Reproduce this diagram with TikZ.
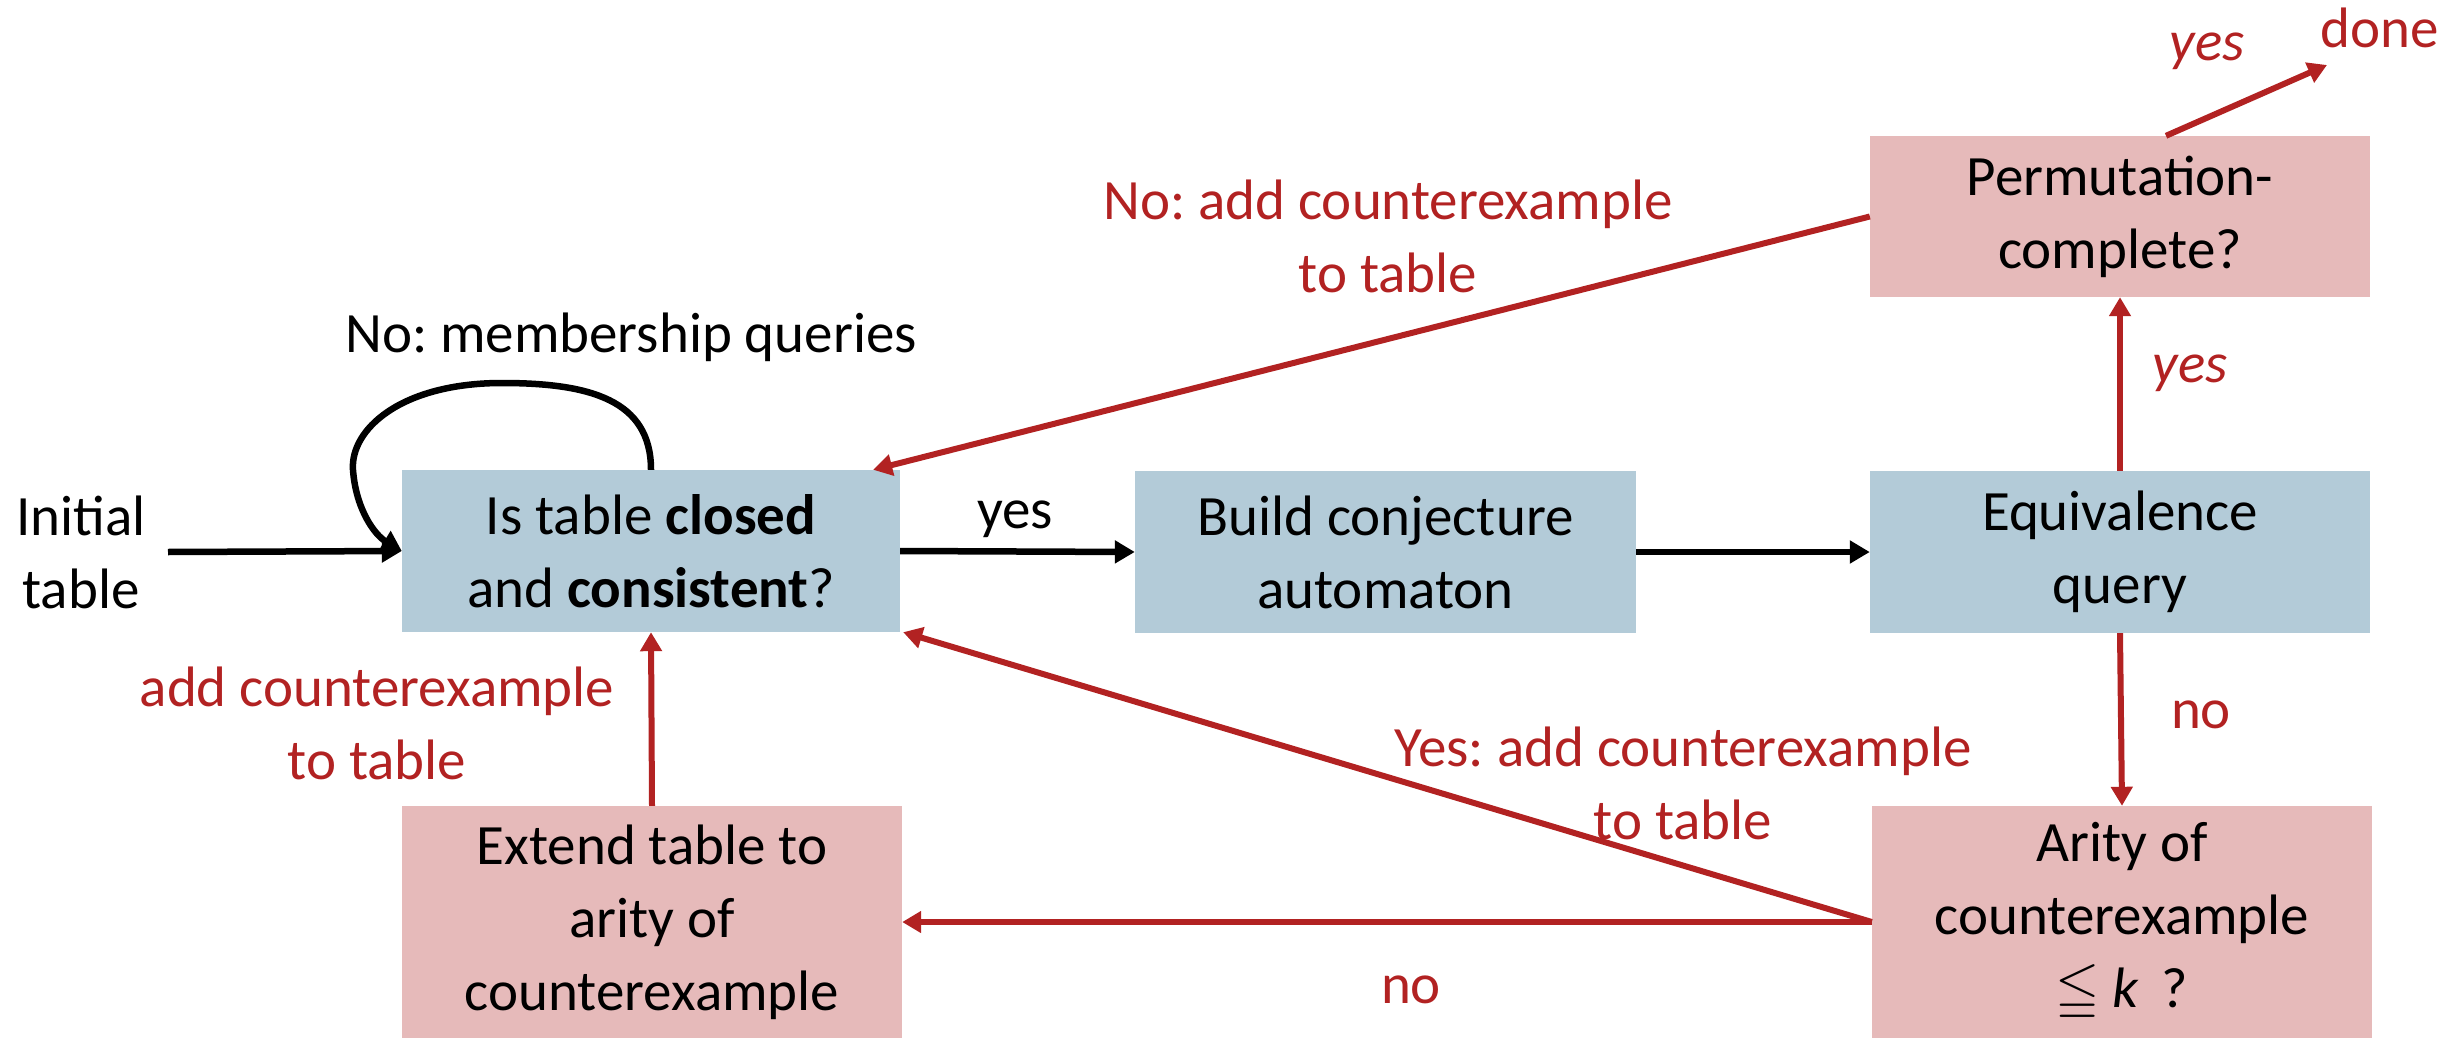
\documentclass[tikz,border=0pt]{standalone}
\usepackage{fontspec}
\usepackage{amssymb}
\setmainfont{Carlito}
\usetikzlibrary{arrows.meta,calc}
\definecolor{boxblue}{RGB}{179,203,216}
\definecolor{boxpink}{RGB}{230,186,186}
\definecolor{darkred}{RGB}{178,34,34}
\frenchspacing
\begin{document}
\begin{tikzpicture}[x=1pt,y=-1pt,
  every node/.style={font=\fontsize{57}{73}\selectfont},
  stepbox/.style={minimum width=500pt, inner sep=0pt, align=center},
  bluebox/.style={stepbox, fill=boxblue, minimum height=162pt},
  pinkbox/.style={stepbox, fill=boxpink},
  blk/.style={draw=black, line width=6.5pt, -{Triangle[length=20pt,width=22pt]}},
  rd/.style={draw=darkred, line width=6pt, -{Triangle[length=19pt,width=21pt]}},
  lbl/.style={text=darkred, align=center, anchor=base, inner sep=0pt},
  blbl/.style={text=black, align=center, anchor=base, inner sep=0pt}]
\useasboundingbox (0,0) rectangle (2458,1038);

\node[bluebox, minimum width=498pt] (closed) at (651,551) {Is table \textbf{closed}\\and \textbf{consistent}?};
\node[bluebox, minimum width=501pt] (build) at (1385.5,552) {Build conjecture\\automaton};
\node[bluebox] (equiv) at (2120,552) {Equivalence\\query};
\node[pinkbox, minimum height=161pt] (perm) at (2120,216.5) {Permutation-\\complete?};
\node[pinkbox, minimum height=232pt] (arity) at (2122,922) {Arity of\\counterexample\\$\leqq$ \textit{k} \,?};
\node[pinkbox, minimum height=232pt] (extend) at (652,922) {Extend table to\\arity of\\counterexample};

\node[blbl] (initlbl) at (81,608) {Initial\\table};
\node[blbl] (memlbl) at (631,352) {No: membership queries};
\node[blbl] (yeslbl) at (1015,528) {yes};
\node[lbl, anchor=base west] (done) at (2320,48) {done};
\node[lbl] (yesdone) at (2207,61) {\textit{yes}};
\node[lbl] (yesperm) at (2190,382) {\textit{yes}};
\node[lbl] (noeq) at (2201,728) {no};
\node[lbl] (nolbl) at (1411,1003) {no};
\node[lbl] (nocex) at (1388,292) {No: add counterexample\\to table};
\node[lbl] (yescex) at (1683,839) {Yes: add counterexample\\to table};
\node[lbl] (addcex) at (377,779) {add counterexample\\to table};

\coordinate (init) at (168,552);
\coordinate (donept) at (2327,65);

\draw[blk] (init) -- (closed.west);
\draw[blk] (closed.north) .. controls (651,400) and (590,383) .. (502,383)
  .. controls (400,383) and (350,430) .. (353,470)
  .. controls (356,510) and (375,535) .. (closed.west);
\draw[blk] (closed.east) -- (build.west);
\draw[blk] (build.east) -- (equiv.west);
\draw[rd] (equiv.north) -- (perm.south);
\draw[rd] (equiv.south) -- (arity.north);
\draw[rd] ($(perm.north)+(46,0)$) -- (donept);
\draw[rd] (perm.west) -- ($(closed.north east)+(-27,0)$);
\draw[rd] (arity.west) -- ($(closed.south east)+(3,0)$);
\draw[rd] (arity.west) -- (extend.east);
\draw[rd] (extend.north) -- (closed.south);
\end{tikzpicture}
\end{document}
